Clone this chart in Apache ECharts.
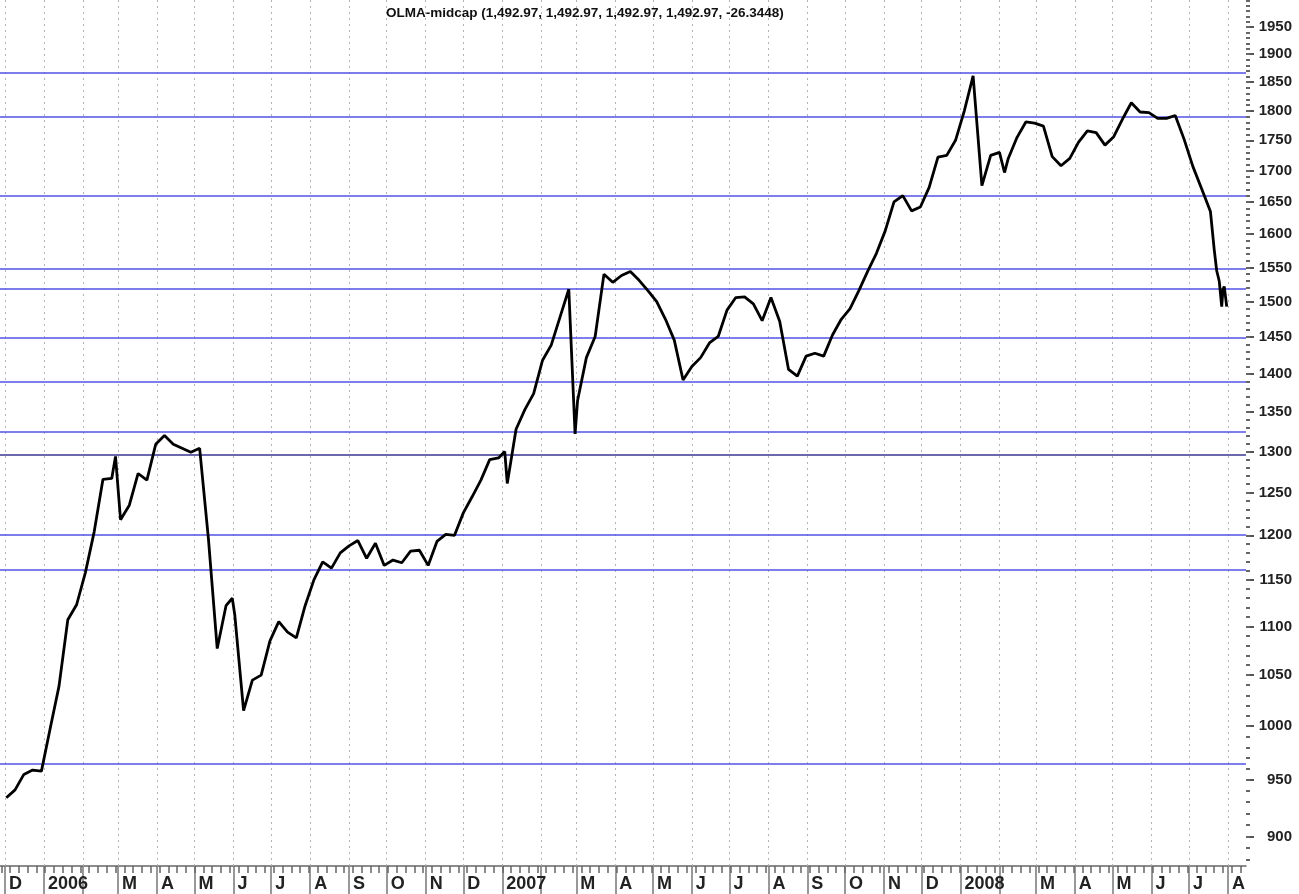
<!DOCTYPE html>
<html lang="en">
<head>
<meta charset="UTF-8">
<title>OLMA-midcap</title>
<style>
    html, body { margin: 0; padding: 0; background: #fff; }
    #main { width: 1299px; height: 894px; }
</style>
<script src="https://cdn.jsdelivr.net/npm/echarts@6/dist/echarts.min.js"></script>
</head>
<body>
<div id="main"></div>
<script type="text/javascript">
    var titleText = 'OLMA-midcap (1,492.97, 1,492.97, 1,492.97, 1,492.97, -26.3448)';

    // weekly closes (plus a few spike days)
    var dates = [
        '2005-12-02','2005-12-09','2005-12-16','2005-12-23','2005-12-30',
        '2006-01-06','2006-01-13','2006-01-20','2006-01-27',
        '2006-02-03','2006-02-10','2006-02-17','2006-02-24','2006-02-27',
        '2006-03-03','2006-03-10','2006-03-17','2006-03-24','2006-03-31',
        '2006-04-07','2006-04-14','2006-04-21','2006-04-28',
        '2006-05-05','2006-05-12','2006-05-19','2006-05-26','2006-05-31',
        '2006-06-02','2006-06-09','2006-06-16','2006-06-23','2006-06-30',
        '2006-07-07','2006-07-14','2006-07-21','2006-07-28',
        '2006-08-04','2006-08-11','2006-08-18','2006-08-25',
        '2006-09-01','2006-09-08','2006-09-15','2006-09-22','2006-09-29',
        '2006-10-06','2006-10-13','2006-10-20','2006-10-27',
        '2006-11-03','2006-11-10','2006-11-17','2006-11-24',
        '2006-12-01','2006-12-08','2006-12-15','2006-12-22','2006-12-29',
        '2007-01-03','2007-01-05','2007-01-12','2007-01-19','2007-01-26',
        '2007-02-02','2007-02-09','2007-02-16','2007-02-23','2007-02-28',
        '2007-03-02','2007-03-09','2007-03-16','2007-03-23','2007-03-30',
        '2007-04-06','2007-04-13','2007-04-20','2007-04-27',
        '2007-05-04','2007-05-11','2007-05-18','2007-05-25',
        '2007-06-01','2007-06-08','2007-06-15','2007-06-22','2007-06-29',
        '2007-07-06','2007-07-13','2007-07-20','2007-07-27',
        '2007-08-03','2007-08-10','2007-08-17','2007-08-24','2007-08-31',
        '2007-09-07','2007-09-14','2007-09-21','2007-09-28',
        '2007-10-05','2007-10-12','2007-10-19','2007-10-26',
        '2007-11-02','2007-11-09','2007-11-16','2007-11-23','2007-11-30',
        '2007-12-07','2007-12-14','2007-12-21','2007-12-28',
        '2008-01-04','2008-01-11','2008-01-18','2008-01-25',
        '2008-02-01','2008-02-05','2008-02-08','2008-02-15','2008-02-22','2008-02-29',
        '2008-03-07','2008-03-14','2008-03-21','2008-03-28',
        '2008-04-04','2008-04-11','2008-04-18','2008-04-25',
        '2008-05-02','2008-05-09','2008-05-16','2008-05-23','2008-05-30',
        '2008-06-06','2008-06-13','2008-06-20','2008-06-27',
        '2008-07-04','2008-07-11','2008-07-18','2008-07-21','2008-07-23',
        '2008-07-25','2008-07-27','2008-07-28','2008-07-29','2008-07-31'
    ];
    var closes = [
        934, 941, 955, 959, 958,
        998, 1039, 1107, 1123,
        1158, 1204, 1266, 1267, 1294,
        1218, 1235, 1273, 1265, 1309,
        1320, 1309, 1304, 1299,
        1304, 1196, 1077, 1122, 1130,
        1112, 1015, 1045, 1050, 1085,
        1105, 1094, 1088, 1122,
        1150, 1170, 1163, 1180,
        1188, 1194, 1174, 1191, 1166,
        1172, 1169, 1182, 1183,
        1166, 1193, 1201, 1200,
        1226, 1245, 1265, 1290, 1292,
        1300, 1261, 1328, 1353, 1374,
        1418, 1439, 1478, 1518, 1322,
        1365, 1422, 1451, 1540, 1528,
        1538, 1544, 1531, 1516,
        1500, 1475, 1446, 1392,
        1410, 1422, 1442, 1451, 1488,
        1506, 1507, 1497, 1473,
        1506, 1472, 1406, 1397, 1424,
        1428, 1424, 1453, 1475,
        1490, 1516, 1544, 1571,
        1605, 1650, 1660, 1636, 1642,
        1673, 1722, 1725, 1750,
        1800, 1861, 1676, 1725,
        1730, 1697, 1720, 1755, 1781, 1779,
        1774, 1723, 1708, 1720,
        1747, 1766, 1763, 1742,
        1756, 1786, 1814, 1798, 1797,
        1787, 1787, 1792, 1752,
        1707, 1671, 1635, 1577, 1545,
        1530, 1493, 1518, 1522, 1492.97
    ];

    // horizontal lines drawn on the chart
    var blueLevels = [1866, 1790, 1660, 1548, 1519, 1449, 1389, 1325, 1201, 1161, 965];
    var darkLevels = [1296];

    var yLabels = [900, 950, 1000, 1050, 1100, 1150, 1200, 1250, 1300, 1350, 1400, 1450,
                   1500, 1550, 1600, 1650, 1700, 1750, 1800, 1850, 1900, 1950];
    var monthInitials = ['J', 'F', 'M', 'A', 'M', 'J', 'J', 'A', 'S', 'O', 'N', 'D'];

    function toTime(s) {
        var p = s.split('-');
        return new Date(+p[0], +p[1] - 1, +p[2]).getTime();
    }

    var xMin = new Date(2005, 10, 27).getTime();
    var xMax = new Date(2008, 7, 15, 8).getTime();
    var yMin = 875, yMax = 2001;

    // month boundaries (ticks + dotted grid) and weekly small ticks
    var monthTicks = [], monthLabels = [], weekTicks = [], minorY = [];
    for (var i = 0; i < 34; i++) {
        var md = new Date(2005, 11 + i, 1);
        monthTicks.push(md.getTime());
        if (md.getMonth() !== 1) monthLabels.push(md.getTime());
    }
    for (var w = 0; w < 145; w++) {
        var wd = new Date(2005, 10, 28 + 7 * w).getTime();
        if (wd <= xMax) weekTicks.push(wd);
    }
    for (var v = 880; v <= 2000; v += 10) minorY.push(v);

    var lineData = dates.map(function (d, i) { return [toTime(d), closes[i]]; });

    // dotted month separators + horizontal level lines
    var monthGrid = monthTicks.map(function (t) {
        return { xAxis: t, lineStyle: { color: '#b4b4b4', width: 1, type: [2, 4] } };
    });
    var levelLines = blueLevels.map(function (v) {
        return { yAxis: v, lineStyle: { color: '#5252e6', width: 1.5, type: 'solid' } };
    }).concat(darkLevels.map(function (v) {
        return { yAxis: v, lineStyle: { color: '#3a3590', width: 1.5, type: 'solid' } };
    }));

    var myChart = echarts.init(document.getElementById('main'));
    var option = {
        backgroundColor: '#ffffff',
        animation: false,
        title: {
            text: titleText,
            left: 381,
            top: 1,
            textStyle: { fontFamily: 'Liberation Sans, Arial', fontSize: 13.5, fontWeight: 'bold', color: '#111' }
        },
        grid: { left: 0, right: 53, top: 0, bottom: 28, containLabel: false, outerBoundsMode: 'none' },
        xAxis: [{
            type: 'value',
            min: xMin,
            max: xMax,
            position: 'bottom',
            axisLine: { show: true, lineStyle: { color: '#666', width: 1.5 } },
            axisTick: { show: true, customValues: monthTicks, length: 28, lineStyle: { color: '#777', width: 1.5 } },
            splitLine: { show: false },
            axisLabel: {
                customValues: monthLabels,
                align: 'left',
                margin: 9,
                padding: [0, 0, 0, 4],
                hideOverlap: false,
                fontFamily: 'Liberation Sans, Arial',
                fontSize: 18,
                fontWeight: 'bold',
                color: '#222',
                formatter: function (val) {
                    var d = new Date(val);
                    return d.getMonth() === 0 ? String(d.getFullYear()) : monthInitials[d.getMonth()];
                }
            }
        }, {
            type: 'value',
            min: xMin,
            max: xMax,
            position: 'bottom',
            axisLine: { show: false },
            axisTick: { show: true, customValues: weekTicks, length: 7, lineStyle: { color: '#666', width: 1.5 } },
            splitLine: { show: false },
            axisLabel: { show: false }
        }],
        yAxis: [{
            type: 'log',
            min: yMin,
            max: yMax,
            position: 'right',
            axisLine: { show: false },
            axisTick: { show: true, customValues: yLabels, length: 8, lineStyle: { color: '#555', width: 2 } },
            splitLine: { show: false },
            axisLabel: {
                customValues: yLabels,
                align: 'right',
                margin: 46,
                fontFamily: 'Liberation Sans, Arial',
                fontSize: 15,
                fontWeight: 'bold',
                color: '#222',
                formatter: function (val) { return String(Math.round(val)); }
            }
        }, {
            type: 'log',
            min: yMin,
            max: yMax,
            position: 'right',
            axisLine: { show: false },
            axisTick: { show: true, customValues: minorY, length: 4, lineStyle: { color: '#666', width: 2 } },
            splitLine: { show: false },
            axisLabel: { show: false }
        }],
        series: [{
            name: 'OLMA-midcap',
            type: 'line',
            xAxisIndex: 0,
            yAxisIndex: 0,
            data: lineData,
            showSymbol: false,
            symbol: 'none',
            lineStyle: { color: '#000', width: 2.8 },
            z: 5,
            markLine: {
                silent: true,
                symbol: 'none',
                label: { show: false },
                data: monthGrid.concat(levelLines),
                z: 3
            }
        }]
    };
    myChart.setOption(option);
</script>
</body>
</html>
